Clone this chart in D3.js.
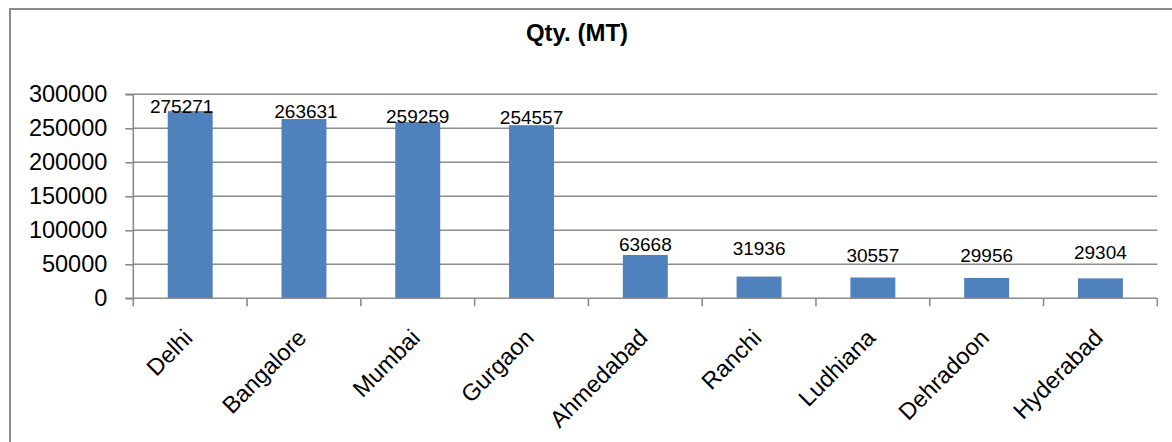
<!DOCTYPE html>
<html><head><meta charset="utf-8">
<script src="https://cdn.jsdelivr.net/npm/d3@7"></script>
<style>html,body{margin:0;padding:0;background:#fff;}svg{display:block;}</style>
</head><body>
<svg id="chart" width="1172" height="442"></svg>
<script>
const categories = ["Delhi","Bangalore","Mumbai","Gurgaon","Ahmedabad","Ranchi","Ludhiana","Dehradoon","Hyderabad"];
const values = [275271,263631,259259,254557,63668,31936,30557,29956,29304];
const yTicks = [0,50000,100000,150000,200000,250000,300000];
const title = "Qty. (MT)";

(function(){
const svg = d3.select("#chart");
const font = "'Liberation Sans', Arial, sans-serif";
const pLeft = 133.3, pRight = 1157.3, pTop = 94.3, pBottom = 298.3;
const grey = "#8c8c8c";

// outer border
svg.append("rect").attr("x",10).attr("y",9).attr("width",1180).attr("height",460)
  .attr("fill","none").attr("stroke",grey).attr("stroke-width",2);

const x = d3.scaleBand().domain(categories).range([pLeft,pRight]).paddingInner(0.605).paddingOuter(0.3025);
const y = d3.scaleLinear().domain([0,300000]).range([pBottom,pTop]);

// gridlines
svg.append("g").selectAll("line").data(yTicks.filter(d=>d>0)).join("line")
  .attr("x1",pLeft).attr("x2",pRight).attr("y1",d=>y(d)).attr("y2",d=>y(d))
  .attr("stroke",grey).attr("stroke-width",1.6);

// y axis
const yAxis = svg.append("g").attr("transform",`translate(${pLeft},0)`)
  .call(d3.axisLeft(y).tickValues(yTicks).tickSize(8).tickPadding(18).tickFormat(d3.format("d")));
yAxis.select(".domain").attr("stroke",grey).attr("stroke-width",1.6).attr("d",`M-8,${pTop}H0V${pBottom}H-8`);
yAxis.selectAll(".tick line").attr("stroke",grey).attr("stroke-width",1.6);
yAxis.selectAll(".tick text").attr("font-family",font).attr("font-size","23.5px").attr("fill","#000");

// bars
svg.append("g").selectAll("rect").data(values).join("rect")
  .attr("x",(d,i)=>x(categories[i])).attr("width",x.bandwidth())
  .attr("y",d=>y(d)).attr("height",d=>pBottom-y(d)).attr("fill","#4F81BD");

// x axis line and boundary ticks
const step = x.step();
svg.append("line").attr("x1",pLeft).attr("x2",pRight).attr("y1",pBottom).attr("y2",pBottom)
  .attr("stroke",grey).attr("stroke-width",1.6);
svg.append("g").selectAll("line").data(d3.range(categories.length+1)).join("line")
  .attr("x1",i=>pLeft+i*step).attr("x2",i=>pLeft+i*step).attr("y1",pBottom).attr("y2",pBottom+8)
  .attr("stroke",grey).attr("stroke-width",1.6);

// category labels
svg.append("g").selectAll("text").data(categories).join("text")
  .attr("transform",d=>`translate(${x(d)+x.bandwidth()/2-2},333.5) rotate(-45)`)
  .attr("text-anchor","end").attr("dy","0.35em")
  .attr("font-family",font).attr("font-size","23.5px").attr("fill","#000").text(d=>d);

// data labels (nudges reproduce the hand-placed label positions)
const labelNudgeY = [2,-0.7,1.3,-0.8,-4.3,-21.6,-15.8,-15.9,-19.1];
const labelNudgeX = [-8.5,2,0,0,0,0,0,0,0];
svg.append("g").selectAll("text").data(values).join("text")
  .attr("x",(d,i)=>x(categories[i])+x.bandwidth()/2+labelNudgeX[i])
  .attr("y",(d,i)=>y(d)+labelNudgeY[i])
  .attr("text-anchor","middle").attr("font-family",font).attr("font-size","19px").attr("fill","#000")
  .text(d=>d);

// title
svg.append("text").attr("x",577).attr("y",41).attr("text-anchor","middle")
  .attr("font-family",font).attr("font-weight","bold").attr("font-size","24px").attr("fill","#000")
  .text(title);
})();
</script>
</body></html>
